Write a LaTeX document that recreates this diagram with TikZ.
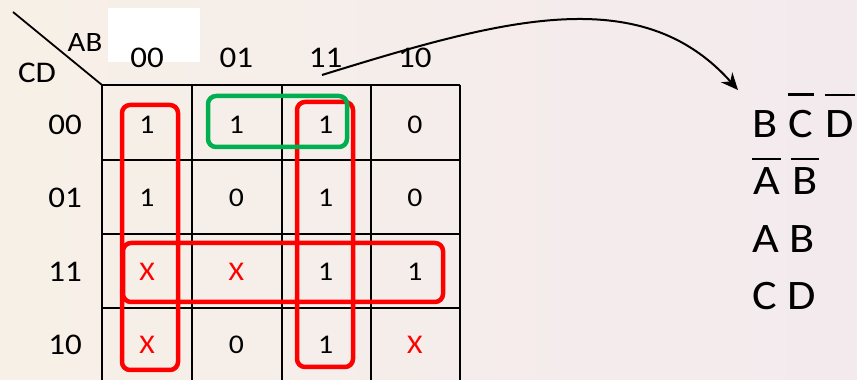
\documentclass[tikz,border=0pt]{standalone}
\usepackage{fontspec}
\setmainfont[FakeStretch=1.1]{Carlito}
\usetikzlibrary{arrows.meta}

\definecolor{kred}{RGB}{255,0,0}
\definecolor{kgreen}{RGB}{0,176,80}
\definecolor{bgleft}{RGB}{247,240,231}
\definecolor{bgright}{RGB}{243,234,238}

% overbar for a complemented variable (#1 = gap above the letter)
\newcommand{\ovl}[2][12pt]{\leavevmode\vbox{\hrule height 2.5pt\kern#1\hbox{\kern1pt#2\kern1pt}}}

\begin{document}
\begin{tikzpicture}[x=1pt, y=1pt, >=Stealth,
  every node/.style={inner sep=0pt},
  kcell/.style={font=\fontsize{27}{31}\selectfont},
  axlabel/.style={font=\fontsize{30}{34}\selectfont},
  implicant/.style={font=\fontsize{42}{48}\selectfont, anchor=base west},
  grid line/.style={line width=1.8pt, black},
  loop red/.style={line width=4.5pt, kred, rounded corners=8pt},
  loop green/.style={line width=4.5pt, kgreen, rounded corners=8pt}]

  % --- 背景 ---
  \path[use as bounding box, left color=bgleft, right color=bgright] (0,0) rectangle (857,380);
  \fill[white] (108,318) rectangle (200,372);

  % 1. カルノー図の格子
  \foreach \x in {102,192,282,371,460}
    \draw[grid line] (\x,0) -- (\x,295);
  \foreach \y in {295,220,146,72}
    \draw[grid line] (102,\y) -- (460,\y);
  \draw[grid line] (13,368) -- (102,295);

  % 2. 変数名と見出し
  \node[axlabel, font=\fontsize{28}{32}\selectfont] (var-AB) at (85,337) {AB};
  \node[axlabel] (var-CD) at (37,307) {CD};
  \foreach \lab [count=\ci from 0] in {00,01,11,10}
    \node[axlabel] (col-\lab) at ({147+89.3*\ci}, 322) {\lab};
  \foreach \lab [count=\ri from 0] in {00,01,11,10}
    \node[axlabel] (row-\lab) at (65, {255-73.3*\ri}) {\lab};

  % 3. セルの値 (X = don't care)
  \foreach \val/\col [count=\i from 0] in {1/black,1/black,1/black,0/black,
      1/black,0/black,1/black,0/black, X/kred,X/kred,1/black,1/black,
      X/kred,0/black,1/black,X/kred}{
    \pgfmathtruncatemacro\rowi{\i/4}
    \pgfmathtruncatemacro\coli{mod(\i,4)}
    \node[kcell, text=\col] (cell-\rowi-\coli) at ({147+89.3*\coli}, {255-73.3*\rowi}) {\val};
  }

  % 4. グループ
  \draw[loop red] (122,10) rectangle (178,275);
  \draw[loop red] (297,13) rectangle (353,278);
  \draw[loop red] (123,78) rectangle (443,137);
  \draw[loop green] (208,233) rectangle (347,284);

  % 5. 矢印と積項
  \coordinate (arrow-start) at (322,305);
  \coordinate (arrow-end) at (738,290);
  \draw[-{Stealth[length=17pt, width=15pt]}, line width=2pt]
    (arrow-start) .. controls (500,360) and (640,400) .. (arrow-end);

  \node[implicant] (term-1) at (752,242) {B \ovl[15pt]{C} \ovl[15pt]{D}};
  \node[implicant] (term-2) at (752,185) {\ovl[8pt]{A} \ovl[8pt]{B}};
  \node[implicant] (term-3) at (752,127) {A B};
  \node[implicant] (term-4) at (752,70) {C D};

\end{tikzpicture}
\end{document}
